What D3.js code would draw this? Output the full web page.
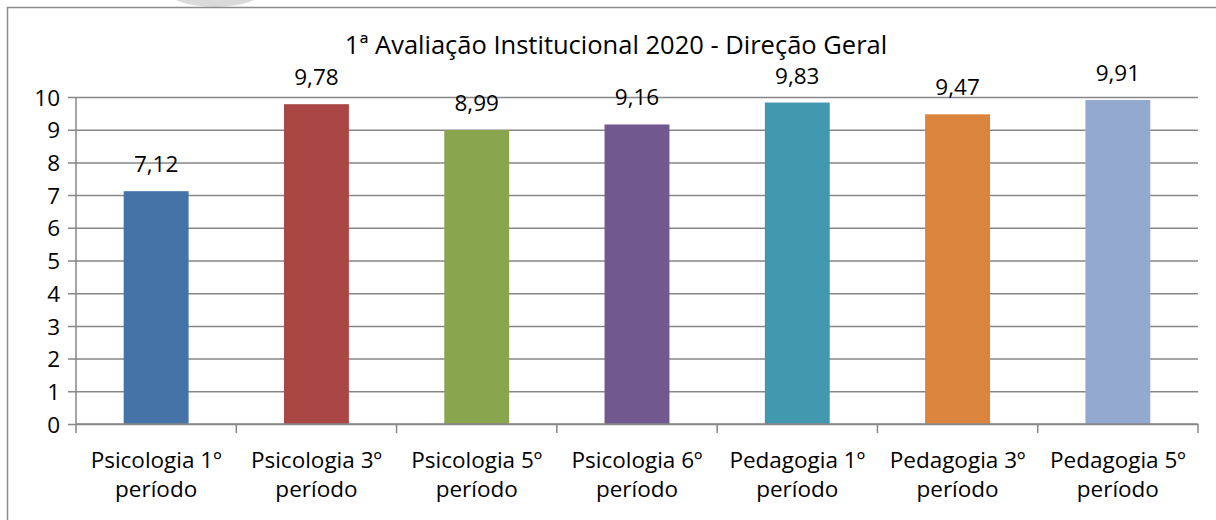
<!DOCTYPE html>
<html>
<head>
<meta charset="utf-8">
<script src="https://cdn.jsdelivr.net/npm/d3@7"></script>
<style>
  body { margin: 0; background: #fff; }
  svg text { font-family: "Open Sans", sans-serif; fill: #000; }
</style>
</head>
<body>
<svg id="chart" width="1216" height="520"></svg>
<script>
const categories = [
  ["Psicologia 1º", "período"],
  ["Psicologia 3º", "período"],
  ["Psicologia 5º", "período"],
  ["Psicologia 6º", "período"],
  ["Pedagogia 1º", "período"],
  ["Pedagogia 3º", "período"],
  ["Pedagogia 5º", "período"]
]
const values = [7.12, 9.78, 8.99, 9.16, 9.83, 9.47, 9.91]
const colors = ["#4572a7", "#aa4643", "#89a54e", "#71588f", "#4198af", "#db843d", "#93a9cf"]
const yTicks = [0, 1, 2, 3, 4, 5, 6, 7, 8, 9, 10]
const title = "1ª Avaliação Institucional 2020 - Direção Geral"

const w = 1216
const h = 520
const margin = { top: 97, bottom: 96, left: 76, right: 18 }
const gridColor = "#878787"
const fontSize = '22.5px'

const svg = d3.select('#chart')

// bit of the logo peeking in above the frame
svg.append('ellipse')
  .attr('cx', 215).attr('cy', -12)
  .attr('rx', 50).attr('ry', 19)
  .attr('fill', '#dadada')

// outer frame
svg.append('rect')
  .attr('x', 7.5).attr('y', 7.5)
  .attr('width', w + 20).attr('height', h + 20)
  .attr('fill', 'none')
  .attr('stroke', '#8c8c8c')
  .attr('stroke-width', 1.5)

const x = d3.scaleBand()
  .domain(categories.map((d, i) => i))
  .range([margin.left, w - margin.right])
  .paddingInner(0.595)
  .paddingOuter(0.2975)

const y = d3.scaleLinear()
  .domain([0, 10])
  .range([h - margin.bottom, margin.top])

// gridlines + y labels
svg.append('g')
  .attr('transform', `translate(${margin.left},0)`)
  .call(d3.axisLeft(y).tickValues(yTicks).tickSize(8))
  .call(g => g.select('.domain').remove())
  .call(g => g.selectAll('.tick line')
    .attr('stroke', gridColor)
    .attr('stroke-width', 1.5)
    .attr('x2', w - margin.right - margin.left)
    .attr('x1', -8))
  .call(g => g.selectAll('.tick text')
    .attr('x', -16)
    .attr('dy', '0.36em')
    .style('font-size', fontSize)
    .style('font-family', "'Open Sans', sans-serif")
    .attr('fill', '#000'))

// y axis line
svg.append('line')
  .attr('x1', margin.left).attr('x2', margin.left)
  .attr('y1', y(10)).attr('y2', y(0))
  .attr('stroke', gridColor)
  .attr('stroke-width', 1.5)

// bars
svg.selectAll('rect.bar')
  .data(values).enter()
  .append('rect')
    .classed('bar', true)
    .attr('x', (d, i) => x(i))
    .attr('y', d => y(d))
    .attr('width', x.bandwidth())
    .attr('height', d => y(0) - y(d))
    .attr('fill', (d, i) => colors[i])

// x axis with category separators
const step = x.step()
const boundaries = d3.range(categories.length + 1).map(i => margin.left + i * step)

svg.append('line')
  .attr('x1', margin.left).attr('x2', w - margin.right)
  .attr('y1', y(0)).attr('y2', y(0))
  .attr('stroke', gridColor)
  .attr('stroke-width', 1.5)

svg.selectAll('line.sep')
  .data(boundaries).enter()
  .append('line')
    .classed('sep', true)
    .attr('x1', d => d).attr('x2', d => d)
    .attr('y1', y(0)).attr('y2', y(0) + 9)
    .attr('stroke', gridColor)
    .attr('stroke-width', 1.5)

// value labels
svg.selectAll('text.value')
  .data(values).enter()
  .append('text')
    .classed('value', true)
    .attr('text-anchor', 'middle')
    .attr('x', (d, i) => x(i) + x.bandwidth() / 2)
    .attr('y', d => y(d) - 19)
    .style('font-size', fontSize)
    .text(d => d.toFixed(2).replace('.', ','))

// category labels, two lines
categories.forEach((c, i) => {
  const cx = x(i) + x.bandwidth() / 2
  const t = svg.append('text')
    .attr('text-anchor', 'middle')
    .attr('x', cx)
    .attr('y', 468)
    .style('font-size', fontSize)
  t.append('tspan').attr('x', cx).text(c[0])
  t.append('tspan').attr('x', cx).attr('dy', 28.5).text(c[1])
})

// title
svg.append('text')
  .attr('text-anchor', 'middle')
  .attr('x', 616)
  .attr('y', 54)
  .style('font-size', '25.5px')
  .text(title)
</script>
</body>
</html>
